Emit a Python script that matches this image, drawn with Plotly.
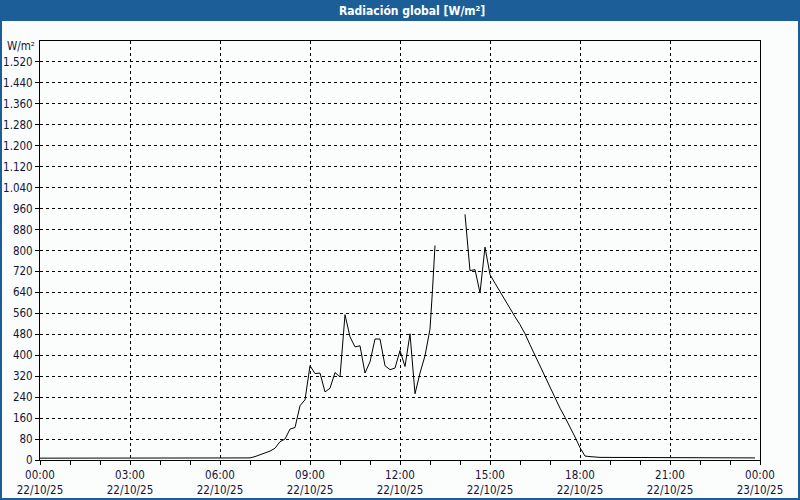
import plotly.graph_objects as go

# ---- data ----
day = "2025-10-22"
times = [
    "00:00", "07:00", "07:10", "07:20", "07:30", "07:40", "07:50",
    "08:00", "08:10", "08:20", "08:30", "08:40", "08:50",
    "09:00", "09:10", "09:20", "09:30", "09:40", "09:50",
    "10:00", "10:10", "10:20", "10:30", "10:40", "10:50",
    "11:00", "11:10", "11:20", "11:30", "11:40", "11:50",
    "12:00", "12:10", "12:20", "12:30", "12:40", "12:50",
    "13:00", "13:05", "13:10", "13:20",
    "14:10", "14:20", "14:30", "14:40", "14:50",
    "15:00", "15:10", "15:20", "15:30", "15:40", "15:50",
    "16:00", "16:10", "16:20", "16:30", "16:40", "16:50",
    "17:00", "17:10", "17:20", "17:30", "17:40", "17:50",
    "18:00", "18:10", "18:20", "18:30", "18:40", "23:50",
]
radiation = [
    7, 8, 13, 19, 25, 34, 45,
    70, 80, 118, 124, 207, 230,
    360, 330, 332, 260, 274, 334,
    317, 555, 470, 432, 436, 332,
    375, 462, 462, 360, 345, 351,
    418, 357, 482, 253, 332, 398,
    500, 650, 819, None,
    938, 723, 727, 638, 813,
    708, 675, 642, 610, 577, 547,
    517, 482, 440, 400, 360, 317,
    274, 236, 198, 163, 128, 88,
    47, 15, 13, 11, 10, 8,
]
x_tick_vals = ["2025-10-22 00:00", "2025-10-22 03:00", "2025-10-22 06:00",
               "2025-10-22 09:00", "2025-10-22 12:00", "2025-10-22 15:00",
               "2025-10-22 18:00", "2025-10-22 21:00", "2025-10-23 00:00"]
x_tick_text = ["00:00<br>22/10/25", "03:00<br>22/10/25", "06:00<br>22/10/25",
               "09:00<br>22/10/25", "12:00<br>22/10/25", "15:00<br>22/10/25",
               "18:00<br>22/10/25", "21:00<br>22/10/25", "00:00<br>23/10/25"]
y_tick_vals = [0, 80, 160, 240, 320, 400, 480, 560, 640, 720, 800, 880, 960,
               1040, 1120, 1200, 1280, 1360, 1440, 1520]
title_text = "Radiación global [W/m²]"
unit_text = "W/m²"

x = [f"{day} {t}" for t in times]

# ---- layout helpers (pixel -> paper) ----
W, H = 800, 500
L, R, T, B = 40, 760, 41, 460


def px(v):
    return (v - L) / (R - L)


def py(v):
    return (B - v) / (B - T)


FONT = "DejaVu Sans Condensed, Liberation Sans, sans-serif"
TXT = "#14143a"
BLUE = "#1c5f98"
BG = "#fbfdfc"

fig = go.Figure()
fig.add_trace(go.Scatter(
    x=x, y=radiation, mode="lines",
    line=dict(color="black", width=1),
    connectgaps=False, hoverinfo="x+y", showlegend=False,
))

fig.update_layout(
    width=W, height=H,
    margin=dict(l=L, r=W - R, t=T, b=H - B, pad=0, autoexpand=False),
    paper_bgcolor=BG, plot_bgcolor=BG,
    separators=",.",
    font=dict(family=FONT, size=11.5, color=TXT),
    xaxis=dict(
        type="date", automargin=False,
        range=["2025-10-22 00:00", "2025-10-23 00:00"],
        tickmode="array", tickvals=x_tick_vals, ticktext=x_tick_text,
        ticks="outside", ticklen=4, tickcolor="black", tickwidth=1,
        showline=True, linecolor="black", linewidth=1, mirror=True,
        showgrid=True, gridcolor="black", gridwidth=1, griddash="3px,3px",
        zeroline=False,
        minor=dict(dtick=3600000, ticks="outside", ticklen=4,
                   tickcolor="black", showgrid=False),
        tickfont=dict(family=FONT, size=11.5, color=TXT),
    ),
    yaxis=dict(
        range=[0, 1600], automargin=False,
        tickmode="array", tickvals=y_tick_vals, tickformat=",d",
        ticks="outside", ticklen=4, tickcolor="black", tickwidth=1,
        showline=True, linecolor="black", linewidth=1, mirror=True,
        showgrid=True, gridcolor="black", gridwidth=1, griddash="3px,3px",
        zeroline=False,
        tickfont=dict(family=FONT, size=11.5, color=TXT),
    ),
    shapes=[
        dict(type="rect", xref="paper", yref="paper",
             x0=px(0), x1=px(W), y0=py(21), y1=py(0),
             fillcolor=BLUE, line=dict(width=0), layer="above"),
        dict(type="rect", xref="paper", yref="paper",
             x0=px(1), x1=px(W - 1), y0=py(H - 1), y1=py(1),
             fillcolor="rgba(0,0,0,0)", line=dict(color=BLUE, width=2),
             layer="above"),
    ],
    annotations=[
        dict(text="<b>" + title_text + "</b>", xref="paper", yref="paper",
             x=px(412), y=py(10.5), xanchor="center", yanchor="middle",
             showarrow=False,
             font=dict(family=FONT, size=12, color="white")),
        dict(text=unit_text, xref="paper", yref="paper",
             x=px(37), y=py(46), xanchor="right", yanchor="middle",
             showarrow=False,
             font=dict(family=FONT, size=11.5, color=TXT)),
    ],
)

fig.write_html(
    "out.html",
    config={"displayModeBar": False},
    post_script="document.body.style.margin='0';"
                "document.body.style.overflow='hidden';",
)
